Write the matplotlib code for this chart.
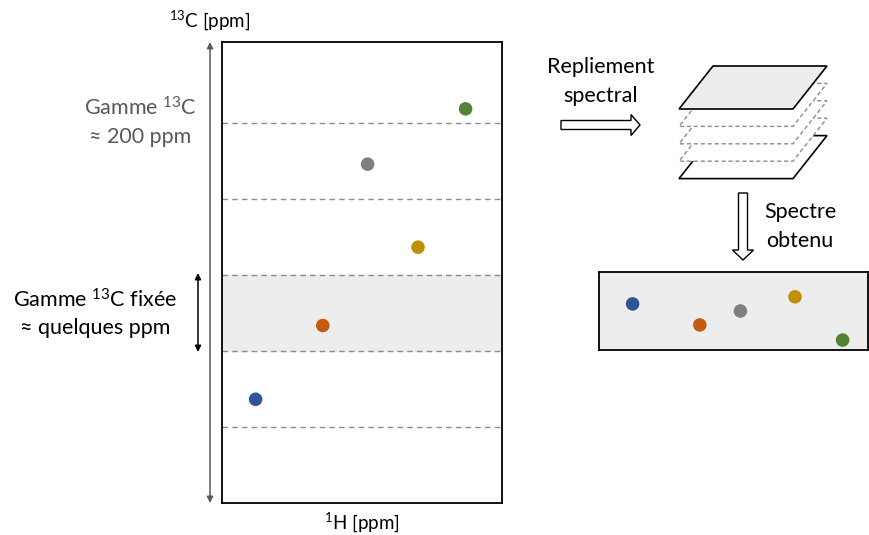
import matplotlib
matplotlib.use("Agg")
import matplotlib.pyplot as plt
from matplotlib.patches import Polygon, FancyArrow

plt.rcParams['font.family'] = ['Lato', 'DejaVu Sans']
plt.rcParams['mathtext.fontset'] = 'custom'
plt.rcParams['mathtext.rm'] = 'Lato'
plt.rcParams['mathtext.it'] = 'Lato:italic'
plt.rcParams['mathtext.bf'] = 'Lato:bold'

# ---- data ----
peak_names = ["bleu", "orange", "gris", "jaune", "vert"]
peak_colors = ["#2F5597", "#C55A11", "#7F7F7F", "#BF9000", "#548235"]
H_shift = [1.2, 3.6, 5.2, 7.0, 8.7]          # 1H ppm (relative)
C_shift = [45, 77, 147, 111, 171]            # 13C ppm (relative, 0..200)
H_strip = [1.2, 3.6, 5.05, 7.0, 8.7]         # 1H position in the obtained spectrum
C_folded = [19.5, 10.6, 16.5, 22.5, 4.2]     # position within folded window (0..33)
band_edges = [33, 66, 99, 132, 165]
fixed_band = (66, 99)
H_range = (0, 10)
C_range = (0, 200)

W, H = 869, 535
fig = plt.figure(figsize=(W / 100, H / 100), dpi=100)

def fx(px):
    return px / W

def fy(py):
    return 1 - py / H

# overlay in pixel coordinates
ov = fig.add_axes([0, 0, 1, 1])
ov.set_xlim(0, W)
ov.set_ylim(H, 0)
ov.axis("off")

# ---- main spectrum box ----
L, T, R, B = 222, 42, 502, 503
ax = fig.add_axes([fx(L), fy(B), fx(R - L), (B - T) / H])
ax.set_xlim(*H_range)
ax.set_ylim(*C_range)
ax.set_xticks([])
ax.set_yticks([])
for s in ax.spines.values():
    s.set_linewidth(1.3)
    s.set_color("black")
ax.axhspan(fixed_band[0], fixed_band[1], color="#EDEDED", zorder=0)
for e in band_edges:
    ax.axhline(e, color="#8C8C8C", lw=1.0, ls=(0, (4, 3)), zorder=1)
ax.scatter(H_shift, C_shift, s=95, c=peak_colors, edgecolors="none", zorder=3)

# ---- folded strip ----
sL, sT, sR, sB = 599, 272, 868, 350
ax2 = fig.add_axes([fx(sL), fy(sB), fx(sR - sL), (sB - sT) / H])
ax2.set_facecolor("#EDEDED")
ax2.set_xlim(0, (sR - sL) / 28.0)
ax2.set_ylim(0, fixed_band[1] - fixed_band[0])
ax2.set_xticks([])
ax2.set_yticks([])
for s in ax2.spines.values():
    s.set_linewidth(1.3)
    s.set_color("black")
ax2.scatter(H_strip, C_folded, s=95, c=peak_colors, edgecolors="none", zorder=3, clip_on=False)

# ---- arrows on the left ----
ov.annotate("", xy=(210, 42), xytext=(210, 503),
            arrowprops=dict(arrowstyle="<|-|>", color="#595959", lw=1.1,
                            mutation_scale=9, shrinkA=0, shrinkB=0))
ov.annotate("", xy=(198, 273), xytext=(198, 352),
            arrowprops=dict(arrowstyle="<|-|>", color="black", lw=1.1,
                            mutation_scale=9, shrinkA=0, shrinkB=0))

# ---- texts ----
fs = 15.5
ov.text(140, 108, "Gamme $^{13}$C", ha="center", va="center", fontsize=fs, color="#595959")
ov.text(140, 137, "≈ 200 ppm", ha="center", va="center", fontsize=fs, color="#595959",
        family=["DejaVu Sans"] if False else None)
ov.text(95, 300, "Gamme $^{13}$C fixée", ha="center", va="center", fontsize=fs, color="black")
ov.text(95, 328, "≈ quelques ppm", ha="center", va="center", fontsize=fs, color="black")
ov.text(210, 20, "$^{13}$C [ppm]", ha="center", va="center", fontsize=13.5, color="black")
ov.text(362, 522, "$^{1}$H [ppm]", ha="center", va="center", fontsize=13.5, color="black")
ov.text(601, 67, "Repliement", ha="center", va="center", fontsize=fs, color="black")
ov.text(601, 96, "spectral", ha="center", va="center", fontsize=fs, color="black")
ov.text(800, 212, "Spectre", ha="center", va="center", fontsize=fs, color="black")
ov.text(800, 241, "obtenu", ha="center", va="center", fontsize=fs, color="black")

# ---- block arrows ----
ov.add_patch(FancyArrow(561, 125, 79, 0, width=9, head_width=21, head_length=9,
                        length_includes_head=True, facecolor="white", edgecolor="black", lw=1.0))
ov.add_patch(FancyArrow(743, 193, 0, 67, width=9, head_width=21, head_length=10,
                        length_includes_head=True, facecolor="white", edgecolor="black", lw=1.0))

# ---- stack of planes ----
plane = [(713, 66), (827, 66), (793, 109), (679, 109)]
n_planes = 5
step = 17.4
for i in reversed(range(n_planes)):
    dy = i * step
    pts = [(x, y + dy) for x, y in plane]
    if i == 0:
        p = Polygon(pts, closed=True, facecolor="#EDEDED", edgecolor="black", lw=1.2)
    elif i == n_planes - 1:
        p = Polygon(pts, closed=True, facecolor="white", edgecolor="black", lw=1.2)
    else:
        p = Polygon(pts, closed=True, facecolor="white", edgecolor="#8C8C8C", lw=1.0,
                    ls=(0, (3, 2)))
    ov.add_patch(p)

fig.savefig("out.png", dpi=100)
